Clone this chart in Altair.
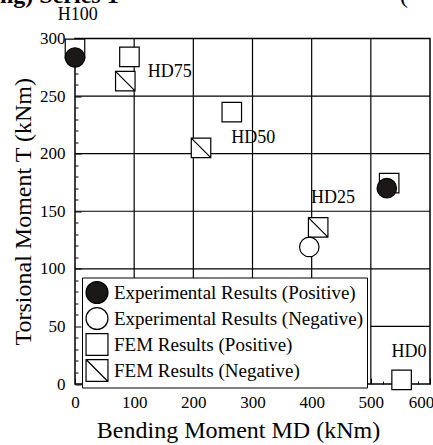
import altair as alt
import pandas as pd

FONT = "Liberation Serif"

series_names = [
    "Experimental Results (Positive)",
    "Experimental Results (Negative)",
    "FEM Results (Positive)",
    "FEM Results (Negative)",
]
series_fill = ["#1c1818", "white", "white", "white"]
series_stroke = ["black", "black", "black", "black"]
slashed_square = "M-1,-1L1,-1L1,1L-1,1Z M-1,-1L1,1"
series_shape = ["circle", "circle", "square", slashed_square]

# data points (FEM first so experimental circles are drawn on top)
pt_series = [2, 2, 2, 2, 2, 3, 3, 3, 0, 0, 1]
pt_md = [0, 92, 265, 531, 552, 85, 213, 411, 0, 527, 396]
pt_t = [291, 284, 236, 174.5, 3.5, 263, 205, 136, 283.5, 170, 119]

# specimen labels
label_text = ["H100", "HD75", "HD50", "HD25", "HD0"]
label_md = [-29, 123, 264, 399, 535]
label_t = [320, 271, 214, 161.5, 28]

# axes / grid
x_major = [0, 100, 200, 300, 400, 500, 600]
x_minor = [v for v in range(0, 601, 20) if v % 100]
y_major = [0, 50, 100, 150, 200, 250, 300]
y_minor = [v for v in range(0, 301, 10) if v % 50]
grid_x = [100, 200, 300, 400, 500]
grid_y = [100, 150, 200, 250]
seg_y = [50]
seg_x0 = [500]
seg_x1 = [600]

xs = alt.Scale(domain=[0, 600], nice=False, zero=False)
ys = alt.Scale(domain=[0, 300], nice=False, zero=False)

pts = pd.DataFrame({
    "x": pt_md,
    "y": pt_t,
    "series": [series_names[i] for i in pt_series],
})
labels = pd.DataFrame({"x": label_md, "y": label_t, "text": label_text})
vgrid = pd.DataFrame({"x": grid_x})
hgrid = pd.DataFrame({"y": grid_y})
seg = pd.DataFrame({"x": seg_x0, "x2": seg_x1, "y": seg_y})

def tick_axis(values, size, orient):
    return alt.Axis(values=values, labels=False, domain=False, grid=False,
                    ticks=True, tickSize=size, offset=-size, tickColor="black",
                    tickWidth=1, title=None, orient=orient)

points = alt.Chart(pts).mark_point(filled=True, opacity=1, size=380,
                                   strokeWidth=1.2).encode(
    x=alt.X("x:Q", scale=xs, axis=alt.Axis(
        values=x_major, ticks=False, domain=False, grid=False, orient="bottom",
        labelFont=FONT, labelFontSize=17, labelColor="black", labelPadding=10,
        labelFlush=False,
        labelOffset={"condition": {"test": "datum.value == 600", "value": -9}, "value": 0},
        title="Bending Moment MD (kNm)", titleFont=FONT, titleFontSize=24,
        titleFontWeight="normal", titleColor="black", titlePadding=8,
        titleX=163, titleAlign="center")),
    y=alt.Y("y:Q", scale=ys, axis=alt.Axis(
        values=y_major, ticks=False, domain=False, grid=False, orient="left",
        labelFont=FONT, labelFontSize=17, labelColor="black", labelPadding=10,
        labelFlush=False,
        title="Torsional Moment T (kNm)", titleFont=FONT, titleFontSize=24,
        titleFontWeight="normal", titleColor="black", titlePadding=4)),
    shape=alt.Shape("series:N", scale=alt.Scale(domain=series_names, range=series_shape), title=None),
    fill=alt.Fill("series:N", scale=alt.Scale(domain=series_names, range=series_fill), title=None),
    stroke=alt.Stroke("series:N", scale=alt.Scale(domain=series_names, range=series_stroke), title=None),
)

vlines = alt.Chart(vgrid).mark_rule(color="black", strokeWidth=1.2).encode(
    x=alt.X("x:Q", scale=xs, axis=tick_axis(x_major, 6, "bottom")),
)
hlines = alt.Chart(hgrid).mark_rule(color="black", strokeWidth=1.2).encode(
    y=alt.Y("y:Q", scale=ys, axis=tick_axis(y_major, 6, "left")),
)
seglines = alt.Chart(seg).mark_rule(color="black", strokeWidth=1.2).encode(
    x=alt.X("x:Q", scale=xs, axis=tick_axis(x_minor, 3, "bottom")),
    x2="x2:Q",
    y=alt.Y("y:Q", scale=ys, axis=tick_axis(y_minor, 3, "left")),
)

texts = alt.Chart(labels).mark_text(font=FONT, fontSize=18, align="left",
                                     baseline="middle", color="black").encode(
    x=alt.X("x:Q", scale=xs, axis=None),
    y=alt.Y("y:Q", scale=ys, axis=None),
    text="text:N",
)

header_df = pd.DataFrame({"t": ["ng) Series 1"]})
header = alt.Chart(header_df).mark_text(font=FONT, fontSize=24, fontWeight="bold",
                                        align="left", baseline="alphabetic",
                                        color="black").encode(
    x=alt.value(-75), y=alt.value(-35.5), text="t:N")
paren_df = pd.DataFrame({"t": ["("]})
paren = alt.Chart(paren_df).mark_text(font=FONT, fontSize=24, align="left",
                                      baseline="alphabetic", color="black").encode(
    x=alt.value(325), y=alt.value(-35.5), text="t:N")

chart = alt.layer(vlines, hlines, seglines, points, texts, header, paren).resolve_axis(
    x="independent", y="independent"
).properties(
    width=355, height=345.5,
    autosize=alt.AutoSizeParams(type="none"),
    padding={"left": 75, "top": 38.5, "right": 3, "bottom": 61},
).configure_view(
    stroke="black", strokeWidth=1.5
).configure_legend(
    orient="none", legendX=7, legendY=239, fillColor="white", strokeColor="black",
    padding=3, labelFont=FONT, labelFontSize=19, labelColor="black", labelLimit=400,
    rowPadding=-3, symbolSize=480, symbolStrokeWidth=1.2,
    labelOffset=5, titlePadding=0,
)

chart.save("out.html", embed_options={"renderer": "svg", "actions": False})
